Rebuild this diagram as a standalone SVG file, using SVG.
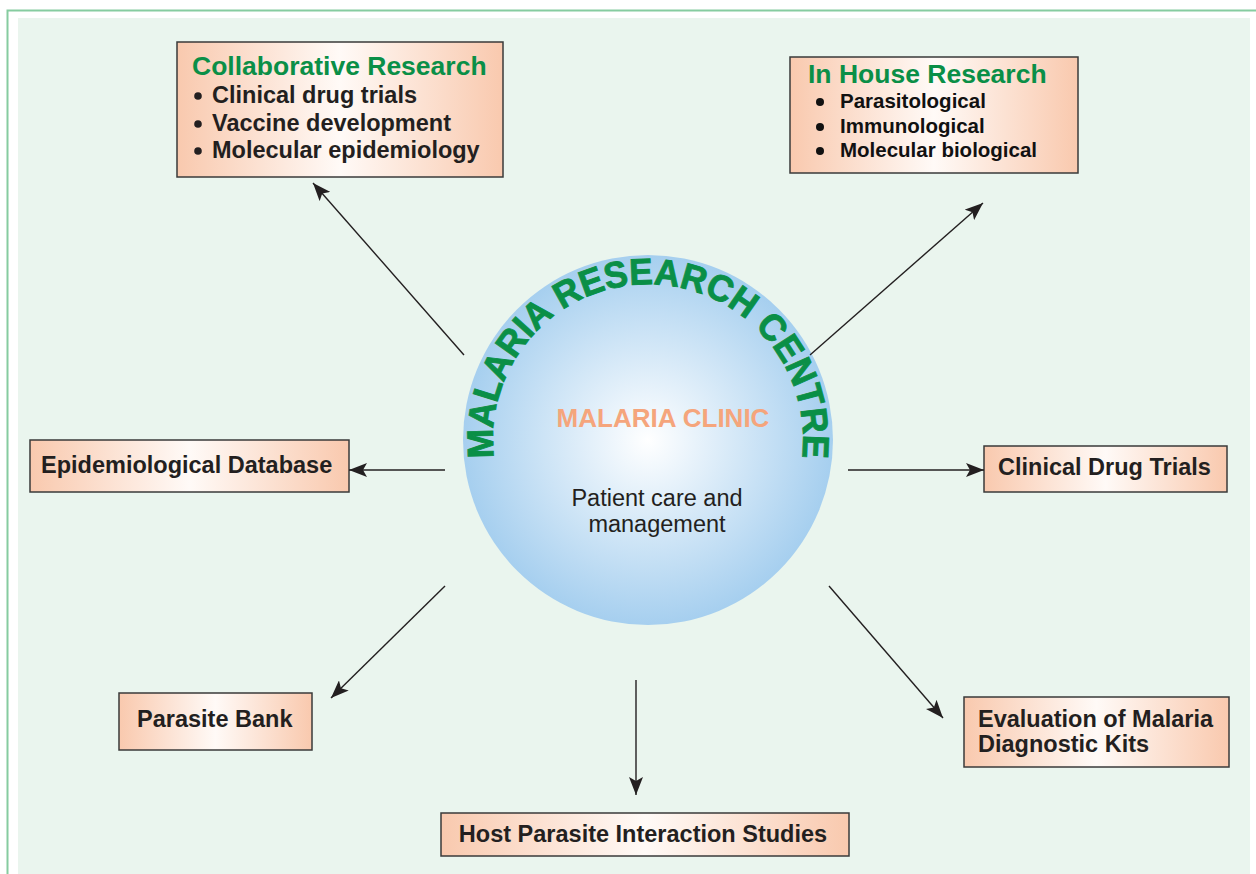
<svg xmlns="http://www.w3.org/2000/svg" xmlns:xlink="http://www.w3.org/1999/xlink" width="1256" height="874" viewBox="0 0 1256 874">
<defs>
<linearGradient id="boxg" x1="0" y1="0" x2="1" y2="0">
<stop offset="0" stop-color="#f9c9ae"/>
<stop offset="0.5" stop-color="#fffaf7"/>
<stop offset="1" stop-color="#f9c9ae"/>
</linearGradient>
<radialGradient id="circg" cx="0.5" cy="0.5" r="0.5">
<stop offset="0" stop-color="#ffffff"/>
<stop offset="1" stop-color="#a6cfef"/>
</radialGradient>
<marker id="ah" markerUnits="userSpaceOnUse" markerWidth="20" markerHeight="14" refX="18" refY="7" orient="auto">
<path d="M0,0 L18,7 L0,14 L4,7 Z" fill="#231f20"/>
</marker>
<path id="arc" d="M 494 457 A 155 155 0 1 1 802 457"/>
<style>
.box{fill:url(#boxg);stroke:#3a3a3a;stroke-width:1.5}
.lbl{font-family:"Liberation Sans",Arial,sans-serif;font-weight:bold;font-size:23.5px;fill:#231f20}
.ttl{font-family:"Liberation Sans",Arial,sans-serif;font-weight:bold;font-size:26.5px;fill:#0a8f47}
.blt{font-family:"Liberation Sans",Arial,sans-serif;font-weight:bold;font-size:20.5px;fill:#111}
.con{stroke:#231f20;stroke-width:1.4;fill:none;marker-end:url(#ah)}
</style>
</defs>
<rect x="18" y="18" width="1232" height="856" fill="#eaf5ee"/>
<path d="M7.5 874 V10.5 H1256" fill="none" stroke="#86cca0" stroke-width="2"/>

<g id="centre">
<circle cx="648" cy="440" r="185" fill="url(#circg)"/>
<text font-family="'Liberation Sans',Arial,sans-serif" font-weight="bold" font-size="37" fill="#0a8f47" stroke="#0a8f47" stroke-width="0.9"><textPath xlink:href="#arc" href="#arc" startOffset="50%" text-anchor="middle" textLength="524" lengthAdjust="spacingAndGlyphs">MALARIA RESEARCH CENTRE</textPath></text>
<text x="663" y="427" text-anchor="middle" font-family="'Liberation Sans',Arial,sans-serif" font-weight="bold" font-size="26" fill="#f5a57c">MALARIA CLINIC</text>
<text x="657" y="506" text-anchor="middle" font-family="'Liberation Sans',Arial,sans-serif" font-size="23.5" fill="#231f20">Patient care and</text>
<text x="657" y="532" text-anchor="middle" font-family="'Liberation Sans',Arial,sans-serif" font-size="23.5" fill="#231f20">management</text>
</g>

<g id="collab">
<rect class="box" x="177" y="42" width="326" height="135"/>
<text class="ttl" x="192" y="75">Collaborative Research</text>
<circle cx="198" cy="96" r="3.8" fill="#231f20"/>
<circle cx="198" cy="124" r="3.8" fill="#231f20"/>
<circle cx="198" cy="151" r="3.8" fill="#231f20"/>
<text class="lbl" x="212" y="103">Clinical drug trials</text>
<text class="lbl" x="212" y="131">Vaccine development</text>
<text class="lbl" x="212" y="158">Molecular epidemiology</text>
</g>

<g id="inhouse">
<rect class="box" x="790" y="57" width="288" height="116"/>
<text class="ttl" x="808" y="83">In House Research</text>
<circle cx="820" cy="102" r="4" fill="#111"/>
<circle cx="820" cy="127" r="4" fill="#111"/>
<circle cx="820" cy="151" r="4" fill="#111"/>
<text class="blt" x="840" y="108">Parasitological</text>
<text class="blt" x="840" y="133">Immunological</text>
<text class="blt" x="840" y="157">Molecular biological</text>
</g>

<g id="epidb">
<rect class="box" x="30" y="440" width="319" height="52"/>
<text class="lbl" x="41" y="473">Epidemiological Database</text>
</g>

<g id="cdt">
<rect class="box" x="984" y="446" width="243" height="46"/>
<text class="lbl" x="998" y="475">Clinical Drug Trials</text>
</g>

<g id="pbank">
<rect class="box" x="119" y="693" width="193" height="57"/>
<text class="lbl" x="137" y="727">Parasite Bank</text>
</g>

<g id="evalkits">
<rect class="box" x="964" y="697" width="265" height="70"/>
<text class="lbl" x="978" y="727">Evaluation of Malaria</text>
<text class="lbl" x="978" y="752">Diagnostic Kits</text>
</g>

<g id="hostpar">
<rect class="box" x="441" y="813" width="408" height="43"/>
<text class="lbl" x="643" y="842" text-anchor="middle">Host Parasite Interaction Studies</text>
</g>

<g id="connectors">
<line class="con" x1="464" y1="355" x2="313" y2="183"/>
<line class="con" x1="810" y1="355" x2="983" y2="203"/>
<line class="con" x1="445" y1="470" x2="349" y2="470"/>
<line class="con" x1="848" y1="470" x2="984" y2="470"/>
<line class="con" x1="445" y1="586" x2="331" y2="698"/>
<line class="con" x1="636" y1="680" x2="636" y2="795"/>
<line class="con" x1="829" y1="586" x2="943" y2="718"/>
</g>
</svg>
